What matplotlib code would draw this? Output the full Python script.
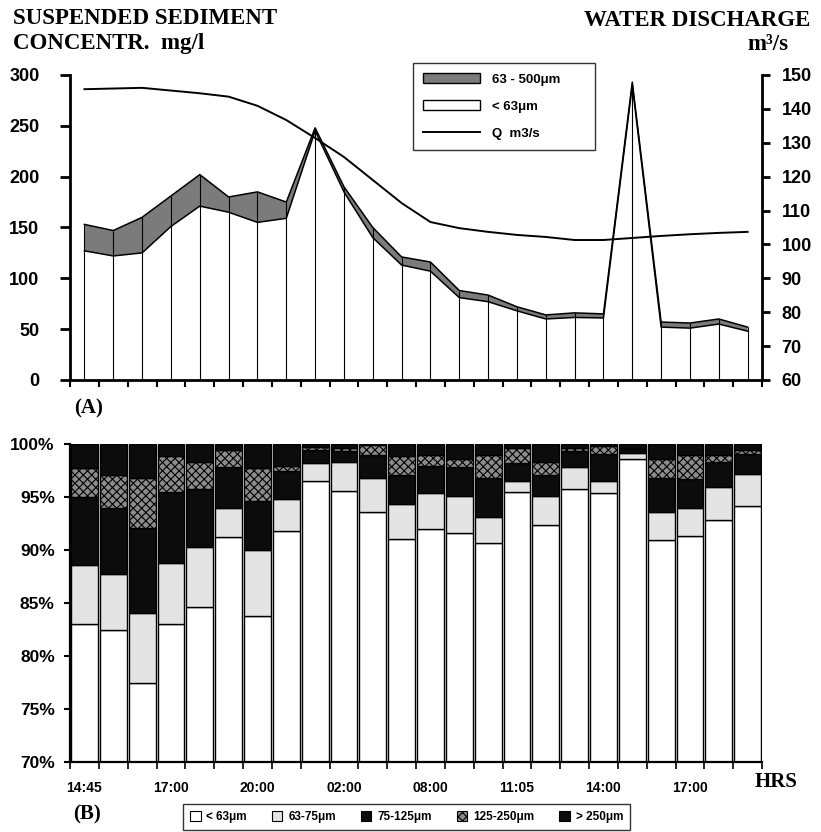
import numpy as np
import matplotlib.pyplot as plt
from matplotlib.patches import Patch
from matplotlib.lines import Line2D

# 24 samples, only every third one carries a time label
n_samples = 24
time_labels = ["14:45", "17:00", "20:00", "02:00", "08:00", "11:05", "14:00", "17:00"]
label_idx = [0, 3, 6, 9, 12, 15, 18, 21]

# (A) suspended sediment concentration (mg/l)
ssc_fine = [127, 122, 125, 151, 171, 165, 155, 159, 245, 185, 140, 113,
            107, 81, 77, 68, 60, 61.5, 61, 290, 52, 51, 55, 48]          # < 63um
ssc_total = [153, 147, 160, 181, 202, 180, 185, 175, 248, 190, 150, 121,
             116, 88, 83.5, 72, 64, 66, 65, 293, 57, 56, 60, 52]         # < 500um
# water discharge (m3/s)
discharge = [145.8, 146.0, 146.2, 145.4, 144.6, 143.6, 140.9, 136.7, 131.4, 125.8, 119.0, 112.2,
             106.6, 104.8, 103.7, 102.8, 102.2, 101.3, 101.3, 101.9, 102.5, 103.0, 103.4, 103.7]

# (B) grain size fractions (%)
pct_lt63 = [83.05, 82.5, 77.5, 83.0, 84.6, 91.2, 83.8, 91.8, 96.5, 95.6, 93.6, 91.0,
            92.0, 91.6, 90.7, 95.5, 92.4, 95.75, 95.4, 98.6, 90.9, 91.3, 92.8, 94.2]
pct_63_75 = [5.55, 5.2, 6.6, 5.8, 5.65, 2.8, 6.2, 3.0, 1.7, 2.7, 3.2, 3.3,
             3.4, 3.5, 2.4, 1.0, 2.7, 2.05, 1.1, 0.6, 2.7, 2.7, 3.1, 3.0]
pct_75_125 = [6.4, 6.3, 8.0, 6.7, 5.55, 3.8, 4.6, 2.65, 1.2, 1.0, 2.2, 2.8,
              2.55, 2.75, 3.7, 1.7, 2.0, 1.55, 2.55, 0.3, 3.2, 2.7, 2.45, 1.9]
pct_125_250 = [2.7, 3.1, 4.7, 3.4, 2.5, 1.6, 3.1, 0.5, 0.3, 0.3, 0.9, 1.8,
               1.0, 0.75, 2.15, 1.4, 1.2, 0.25, 0.8, 0.1, 1.8, 2.25, 0.65, 0.3]
pct_gt250 = [2.3, 2.9, 3.2, 1.1, 1.7, 0.6, 2.3, 2.05, 0.3, 0.4, 0.1, 1.1,
             1.05, 1.4, 1.05, 0.4, 1.7, 0.4, 0.15, 0.4, 1.4, 1.05, 1.0, 0.6]

plt.rcParams['hatch.linewidth'] = 0.8
sans = "Liberation Sans"
serif = "Liberation Serif"

fig = plt.figure(figsize=(8.21, 8.32), dpi=100)
x = np.arange(n_samples)
bounds = np.arange(-0.5, n_samples)

# ---------------- (A) ----------------
ax1 = fig.add_axes([0.0853, 0.5433, 0.8429, 0.3666])
ax2 = ax1.twinx()

ax1.fill_between(x, 0, ssc_fine, facecolor="white", edgecolor="none")
ax1.fill_between(x, ssc_fine, ssc_total, facecolor="#7b7b7b", edgecolor="none")
ax1.vlines(x, 0, ssc_total, color="black", lw=0.8)
ax1.plot(x, ssc_fine, color="black", lw=1.1)
ax1.plot(x, ssc_total, color="black", lw=1.1)
ax1.set_xlim(-0.5, n_samples - 0.5)
ax1.set_ylim(0, 300)
ax1.set_yticks(np.arange(0, 301, 50))

ax2.plot(x, discharge, color="black", lw=1.4)
ax2.set_ylim(60, 150)
ax2.set_yticks(np.arange(60, 151, 10))

for s in ["top", "right"]:
    ax1.spines[s].set_visible(False)
for s in ["top", "left", "bottom"]:
    ax2.spines[s].set_visible(False)
for sp in [ax1.spines["left"], ax1.spines["bottom"], ax2.spines["right"]]:
    sp.set_linewidth(2)

ax1.set_xticks(bounds)
ax1.set_xticklabels([])
ax1.tick_params(axis="x", direction="out", length=5, width=1.5)
ax1.tick_params(axis="y", direction="out", length=7, width=2, pad=15,
                labelsize=13)
ax2.tick_params(axis="y", direction="out", length=6, width=2, pad=8,
                labelsize=13)
for lab in ax1.get_yticklabels() + ax2.get_yticklabels():
    lab.set_fontfamily(sans)
    lab.set_fontweight("bold")

handles_a = [Patch(facecolor="#7b7b7b", edgecolor="black", lw=1),
             Patch(facecolor="white", edgecolor="black", lw=1),
             Line2D([], [], color="black", lw=1.4)]
leg_a = ax2.legend(handles_a, ["63 - 500\u03bcm", "< 63\u03bcm", "Q  m3/s"],
                   loc="upper left", bbox_to_anchor=(0.496, 0.741, 0.263, 0.298),
                   mode="expand",
                   frameon=True, fancybox=False, edgecolor="black",
                   handlelength=4.3, handleheight=0.8, labelspacing=1.1,
                   borderpad=0.75, handletextpad=0.9, borderaxespad=0,
                   prop={"family": sans, "weight": "bold", "size": 9.5})
leg_a.get_frame().set_linewidth(1.0)

# ---------------- (B) ----------------
ax3 = fig.add_axes([0.0853, 0.0841, 0.8429, 0.3822])
fractions = [pct_lt63, pct_63_75, pct_75_125, pct_125_250, pct_gt250]
faces = ["white", "#e4e4e4", "#0c0c0c", "#8c8c8c", "#0c0c0c"]
hatches = [None, None, None, "xxxx", None]
frac_labels = ["< 63\u03bcm", "63-75\u03bcm", "75-125\u03bcm", "125-250\u03bcm", "> 250\u03bcm"]
bottom = np.zeros(n_samples)
for vals, fc, h in zip(fractions, faces, hatches):
    vals = np.array(vals)
    ax3.bar(x, vals, bottom=bottom, width=0.93, facecolor=fc, edgecolor="black",
            linewidth=1.0, hatch=h)
    bottom += vals

ax3.set_xlim(-0.5, n_samples - 0.5)
ax3.set_ylim(70, 100)
ax3.set_yticks(np.arange(70, 101, 5))
ax3.set_yticklabels([f"{v}%" for v in range(70, 101, 5)])
for s in ["top", "right"]:
    ax3.spines[s].set_visible(False)
for s in ["left", "bottom"]:
    ax3.spines[s].set_linewidth(1.6)
ax3.set_xticks(bounds)
ax3.set_xticklabels([])
ax3.set_xticks(label_idx, minor=True)
ax3.set_xticklabels(time_labels, minor=True)
ax3.tick_params(axis="x", which="major", direction="out", length=5, width=1.2)
ax3.tick_params(axis="x", which="minor", length=0, pad=14, labelsize=10)
ax3.tick_params(axis="y", direction="out", length=4, width=1.5, pad=7, labelsize=12.5)
for lab in ax3.get_yticklabels() + ax3.get_xticklabels(minor=True):
    lab.set_fontfamily(sans)
    lab.set_fontweight("bold")

handles_b = [Patch(facecolor=fc, edgecolor="black", hatch=h, lw=0.8)
             for fc, h in zip(faces, hatches)]
leg_b = fig.legend(handles_b, frac_labels, ncol=5, loc="center",
                   bbox_to_anchor=(406.5 / 821, 1 - 817 / 832),
                   frameon=True, fancybox=False, edgecolor="black",
                   handlelength=0.9, handleheight=0.9, columnspacing=2.1,
                   handletextpad=0.5, borderpad=0.6,
                   prop={"family": sans, "weight": "bold", "size": 8.5})
leg_b.get_frame().set_linewidth(1.0)

# ---------------- texts ----------------
tkw = dict(family=serif, weight="bold", fontsize=16.5, va="center")
fig.text(13 / 821, 1 - 19 / 832, "SUSPENDED SEDIMENT", ha="left", **tkw)
fig.text(13 / 821, 1 - 43 / 832, "CONCENTR.  mg/l", ha="left", **tkw)
fig.text(810 / 821, 1 - 20 / 832, "WATER DISCHARGE", ha="right", **tkw)
fig.text(788 / 821, 1 - 45 / 832, "m\u00b3/s", ha="right", **tkw)
lkw = dict(family=serif, weight="bold", fontsize=15, va="center")
fig.text(74 / 821, 1 - 408 / 832, "(A)", ha="left", **lkw)
fig.text(73 / 821, 1 - 814 / 832, "(B)", ha="left", **lkw)
fig.text(755 / 821, 1 - 782 / 832, "HRS", ha="left", **lkw)

fig.savefig("out.png", dpi=100)
